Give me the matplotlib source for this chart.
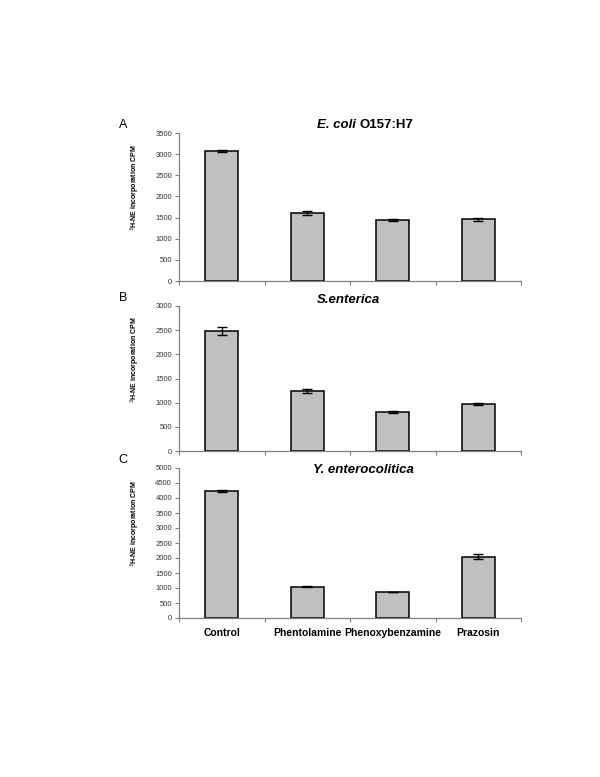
import numpy as np
import matplotlib
matplotlib.use('Agg')
import matplotlib.pyplot as plt

plt.rcParams['font.family'] = ['Liberation Sans', 'DejaVu Sans']

# Data
treatments = ['Control', 'Phentolamine', 'Phenoxybenzamine', 'Prazosin']

ecoli_mean = [3080, 1610, 1445, 1460]
ecoli_err = [25, 45, 22, 30]

senterica_mean = [2490, 1240, 810, 970]
senterica_err = [85, 40, 15, 25]

yent_mean = [4240, 1040, 860, 2050]
yent_err = [30, 15, 5, 85]

panels = [
    ('A', ecoli_mean, ecoli_err, 3500, 500, (133, 281)),
    ('B', senterica_mean, senterica_err, 3000, 500, (306, 451)),
    ('C', yent_mean, yent_err, 5000, 500, (468, 618)),
]

W, H = 600, 777
fig = plt.figure(figsize=(6, 7.77), dpi=100)

x = np.arange(len(treatments))
axes = []
for letter, means, errs, ymax, step, (ytop, ybot) in panels:
    left = 179 / W
    width = 342 / W
    bottom = 1 - ybot / H
    height = (ybot - ytop) / H
    ax = fig.add_axes([left, bottom, width, height])
    ax.bar(x, means, width=0.39, color='#c0c0c0', edgecolor='black', linewidth=1.1, zorder=2)
    ax.errorbar(x, means, yerr=errs, fmt='none', ecolor='black', elinewidth=1.0,
                capsize=3.5, capthick=1.0, zorder=3)
    ax.set_xlim(-0.5, len(treatments) - 0.5)
    ax.set_ylim(0, ymax)
    ax.set_yticks(np.arange(0, ymax + 1, step))
    ax.tick_params(axis='y', labelsize=5.5, length=3, width=0.8, color='#808080',
                   labelcolor='#333333', pad=2)
    ax.set_xticks(np.arange(-0.5, len(treatments) - 0.4, 1.0))
    ax.set_xticklabels([])
    ax.tick_params(axis='x', length=3, width=0.8, color='#808080', direction='out')
    for s in ['top', 'right']:
        ax.spines[s].set_visible(False)
    for s in ['left', 'bottom']:
        ax.spines[s].set_color('#808080')
        ax.spines[s].set_linewidth(0.9)
    ax.set_ylabel(r'$^{3}$H-NE incorporation CPM', fontsize=5, fontweight='bold')
    ax.yaxis.set_label_coords((142 - 179) / 342, 0.63)
    fig.text(123 / W, 1 - (ytop - 8) / H, letter, fontsize=9, ha='center', va='center')
    axes.append(ax)

# Titles (mixed italic/bold)
fig.text(359 / W, 1 - 125 / H, 'E. coli ', fontsize=9.5, fontweight='bold', style='italic',
         ha='right', va='center')
fig.text(359 / W, 1 - 125 / H, 'O157:H7', fontsize=9.5, fontweight='bold',
         ha='left', va='center')
fig.text(348 / W, 1 - 300 / H, 'S.enterica', fontsize=9.5, fontweight='bold', style='italic',
         ha='center', va='center')
fig.text(363 / W, 1 - 470 / H, 'Y. enterocolitica', fontsize=9.5, fontweight='bold', style='italic',
         ha='center', va='center')

# Category labels below the last panel
axc = axes[-1]
for i, name in enumerate(treatments):
    axc.annotate(name, xy=(i, 0), xycoords=('data', 'axes fraction'),
                 xytext=(0, -15), textcoords='offset pixels',
                 ha='center', va='center', fontsize=7.5, fontweight='bold')

fig.savefig('out.png', dpi=100)
